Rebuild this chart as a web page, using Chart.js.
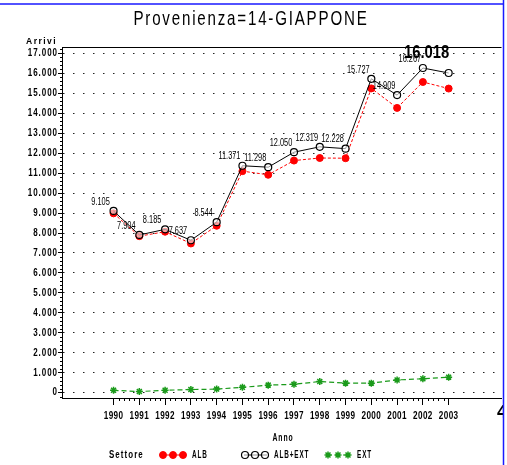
<!DOCTYPE html>
<html>
<head>
<meta charset="utf-8">
<script src="https://cdn.jsdelivr.net/npm/chart.js@4/dist/chart.umd.min.js"></script>
<style>
html, body { margin: 0; padding: 0; background: #fff; }
#wrap { width: 507px; height: 465px; position: relative; }
</style>
</head>
<body>
<div id="wrap"><canvas id="grafico" width="507" height="465"></canvas></div>
<script>
// dati
const anni = [1990, 1991, 1992, 1993, 1994, 1995, 1996, 1997, 1998, 1999, 2000, 2001, 2002, 2003]
const albExt = [9105, 7904, 8185, 7637, 8544, 11371, 11298, 12050, 12319, 12228, 15727, 14909, 16267, 16018]
const alb = [8985, 7844, 8065, 7477, 8364, 11101, 10918, 11630, 11759, 11748, 15247, 14269, 15567, 15238]
const ext = [120, 60, 120, 160, 180, 270, 380, 420, 560, 480, 480, 640, 700, 780]
const tickY = [0, 1000, 2000, 3000, 4000, 5000, 6000, 7000, 8000, 9000, 10000, 11000, 12000, 13000, 14000, 15000, 16000, 17000]

const titolo = 'Provenienza=14-GIAPPONE'
const serie = ['ALB', 'ALB+EXT', 'EXT']

const FONT = '"Liberation Sans", Arial, sans-serif'

function fmt(v){
    return String(v).replace(/\B(?=(\d{3})+(?!\d))/g, '.')
}

function punti(valori){
    return anni.map((a, i) => ({x: a, y: valori[i]}))
}

// testo stretto (il font originale e' molto condensato)
function testo(ctx, str, x, y, font, align, sx, spacing){
    ctx.save()
    ctx.translate(x, y)
    ctx.scale(sx, 1)
    ctx.font = font
    ctx.letterSpacing = (spacing || 0) + 'px'
    ctx.textAlign = align
    ctx.textBaseline = 'middle'
    ctx.fillStyle = '#000'
    ctx.fillText(str, 0, 0)
    ctx.restore()
}

const decorazioni = {
    id: 'decorazioni',
    afterDatasetsDraw(chart){
        const ctx = chart.ctx
        const meta = chart.getDatasetMeta(1)
        meta.data.forEach((p, i) => {
            if (i === meta.data.length - 1) {
                testo(ctx, fmt(albExt[i]), p.x - 22, p.y - 20, 'bold 19px ' + FONT, 'center', 0.78, 0)
            } else {
                testo(ctx, fmt(albExt[i]), p.x - 13, p.y - 9, '10px ' + FONT, 'center', 0.74, 0)
            }
        })
    },
    afterDraw(chart){
        const ctx = chart.ctx
        const a = chart.chartArea
        const xs = chart.scales.x
        const ys = chart.scales.y
        ctx.save()
        ctx.strokeStyle = '#000'
        ctx.lineWidth = 1
        // cornice superiore
        ctx.beginPath()
        ctx.moveTo(a.left, a.top + 0.5)
        ctx.lineTo(a.right, a.top + 0.5)
        // tacche minori asse x
        for (let i = 0; i < anni.length - 1; i++) {
            for (let k = 1; k < 5; k++) {
                const px = Math.round(xs.getPixelForValue(anni[i] + k / 5)) + 0.5
                ctx.moveTo(px, a.bottom)
                ctx.lineTo(px, a.bottom + 3)
            }
        }
        // tacche minori asse y
        for (let v = -200; v <= 17200; v += 200) {
            if (v % 1000 === 0) continue
            const py = Math.round(ys.getPixelForValue(v)) + 0.5
            ctx.moveTo(a.left - 2, py)
            ctx.lineTo(a.left, py)
        }
        ctx.stroke()
        ctx.restore()

        // etichette dei tick
        xs.ticks.forEach(t => {
            testo(ctx, String(t.value), xs.getPixelForValue(t.value), 416, 'bold 11px ' + FONT, 'center', 0.74, 0.5)
        })
        ys.ticks.forEach(t => {
            testo(ctx, fmt(t.value), 58, ys.getPixelForValue(t.value), 'bold 10px ' + FONT, 'right', 0.8, 1.2)
        })

        // titolo
        testo(ctx, titolo, 251, 19, '21px ' + FONT, 'center', 0.72, 2.5)

        // titoli assi
        testo(ctx, 'Arrivi', 26, 41.5, 'bold 8.5px ' + FONT, 'left', 1, 1.5)
        testo(ctx, 'Anno', 283, 438, 'bold 11px ' + FONT, 'center', 0.62, 1.5)

        // legenda
        testo(ctx, 'Settore', 109, 455, 'bold 11px ' + FONT, 'left', 0.72, 1.5)
        const posLeg = [[160, 192], [242, 274], [325, 357]]
        chart.data.datasets.forEach((ds, j) => {
            const x0 = posLeg[j][0]
            ctx.save()
            ctx.strokeStyle = ds.borderColor
            ctx.lineWidth = ds.borderWidth
            ctx.setLineDash(ds.borderDash || [])
            ctx.beginPath()
            ctx.moveTo(x0 + 2, 455)
            ctx.lineTo(x0 + 25, 455)
            ctx.stroke()
            ctx.setLineDash([])
            ctx.fillStyle = ds.pointBackgroundColor
            ctx.strokeStyle = ds.pointBorderColor
            ctx.lineWidth = ds.pointBorderWidth
            for (let k = 0; k < 3; k++) {
                Chart.helpers.drawPoint(ctx, {pointStyle: ds.pointStyle, radius: ds.pointRadius, rotation: 0, borderWidth: ds.pointBorderWidth}, x0 + 3 + k * 10, 455)
            }
            ctx.restore()
            testo(ctx, serie[j], posLeg[j][1], 455, 'bold 11px ' + FONT, 'left', 0.58, 1.5)
        })

        // frammento a destra, tagliato dal bordo
        ctx.save()
        ctx.beginPath()
        ctx.rect(0, 0, 503, 465)
        ctx.clip()
        testo(ctx, '4', 497, 413, 'bold 18px ' + FONT, 'left', 1, 0)
        ctx.restore()

        // bordo blu
        ctx.save()
        ctx.strokeStyle = '#1a1aff'
        ctx.lineWidth = 1.5
        ctx.beginPath()
        ctx.moveTo(0, 4)
        ctx.lineTo(504, 4)
        ctx.moveTo(503.5, 0)
        ctx.lineTo(503.5, 465)
        ctx.stroke()
        ctx.restore()
    }
}

new Chart('grafico', {
    type: 'line',
    data: {
        datasets: [{
            label: serie[0],
            data: punti(alb),
            borderColor: '#ff0000',
            borderWidth: 1,
            borderDash: [3, 2],
            pointStyle: 'circle',
            pointRadius: 3.5,
            pointBackgroundColor: '#ff0000',
            pointBorderColor: '#ff0000',
            pointBorderWidth: 1,
            order: 1
        }, {
            label: serie[1],
            data: punti(albExt),
            borderColor: '#000000',
            borderWidth: 1,
            pointStyle: 'circle',
            pointRadius: 3.5,
            pointBackgroundColor: 'rgba(255,255,255,0.6)',
            pointBorderColor: '#000000',
            pointBorderWidth: 1.2,
            order: 0
        }, {
            label: serie[2],
            data: punti(ext),
            borderColor: '#1a9a1a',
            borderWidth: 1.2,
            borderDash: [5, 3],
            pointStyle: 'star',
            pointRadius: 3.5,
            pointBackgroundColor: '#1a9a1a',
            pointBorderColor: '#1a9a1a',
            pointBorderWidth: 1.5,
            order: 2
        }]
    },
    options: {
        responsive: false,
        animation: false,
        layout: { padding: { top: 47, right: 2, bottom: 0, left: 0 } },
        plugins: {
            legend: { display: false },
            title: { display: false },
            tooltip: { enabled: false }
        },
        scales: {
            x: {
                type: 'linear',
                min: 1988,
                max: 2005.05,
                afterBuildTicks: s => { s.ticks = anni.map(v => ({value: v})) },
                afterFit: s => { s.height = 67 },
                ticks: { display: false },
                grid: { drawOnChartArea: false, drawTicks: true, tickLength: 7, color: '#000' },
                border: { color: '#000', width: 1 }
            },
            y: {
                type: 'linear',
                min: -265,
                max: 17320,
                afterBuildTicks: s => { s.ticks = tickY.map(v => ({value: v})) },
                afterFit: s => { s.width = 62 },
                ticks: { display: false },
                grid: { color: '#222', lineWidth: 1, drawTicks: true, tickLength: 4, tickColor: '#000' },
                border: { color: '#000', width: 1, dash: [1.5, 8.5] }
            }
        }
    },
    plugins: [decorazioni]
})
</script>
</body>
</html>
